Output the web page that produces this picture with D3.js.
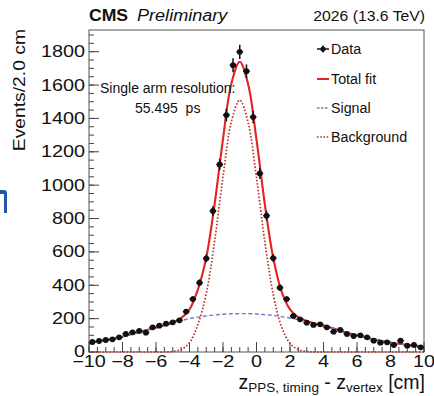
<!DOCTYPE html>
<html>
<head>
<meta charset="utf-8">
<script src="https://cdn.jsdelivr.net/npm/d3@7"></script>
<style>
  html, body { margin: 0; padding: 0; background: #fff; }
  svg { display: block; font-family: "Liberation Sans", Arial, Helvetica, sans-serif; }
</style>
</head>
<body>
<svg id="chart" width="434" height="396"></svg>
<script>
// Histogram bins (cm) and event counts with statistical errors
const binCenters = [-9.8, -9.4, -9.0, -8.6, -8.2, -7.8, -7.4, -7.0, -6.6, -6.2,
                    -5.8, -5.4, -5.0, -4.6, -4.2, -3.8, -3.4, -3.0, -2.6, -2.2,
                    -1.8, -1.4, -1.0, -0.6, -0.2, 0.2, 0.6, 1.0, 1.4, 1.8,
                    2.2, 2.6, 3.0, 3.4, 3.8, 4.2, 4.6, 5.0, 5.4, 5.8,
                    6.2, 6.6, 7.0, 7.4, 7.8, 8.2, 8.6, 9.0, 9.4, 9.8];
const binHalfWidth = 0.2;
const counts = [60, 66, 72, 76, 88, 108, 118, 126, 116, 148,
                158, 170, 178, 190, 242, 317, 415, 561, 845, 1124,
                1420, 1719, 1799, 1683, 1408, 1070, 817, 563, 385, 317,
                216, 196, 176, 162, 166, 148, 122, 132, 108, 96,
                100, 88, 68, 56, 58, 42, 68, 38, 42, 28];
const countErrors = [7.7, 8.1, 8.5, 8.7, 9.4, 10.4, 10.9, 11.2, 10.8, 12.2,
                     12.6, 13.0, 13.3, 13.8, 15.6, 17.8, 20.4, 23.7, 29.1, 33.5,
                     37.7, 41.5, 42.4, 41.0, 37.5, 32.7, 28.6, 23.7, 19.6, 17.8,
                     14.7, 14.0, 13.3, 12.7, 12.9, 12.2, 11.0, 11.5, 10.4, 9.8,
                     10.0, 9.4, 8.2, 7.5, 7.6, 6.5, 8.2, 6.2, 6.5, 5.3];

// Fit curves sampled along z
const fitX = [-10, -9.5, -9, -8.5, -8, -7.5, -7, -6.5, -6, -5.5,
              -5, -4.5, -4, -3.5, -3, -2.5, -2, -1.5, -1, -0.5,
              0, 0.5, 1, 1.5, 2, 2.5, 3, 3.5, 4, 4.5,
              5, 5.5, 6, 6.5, 7, 7.5, 8, 8.5, 9, 9.5, 10];
const totalFit = [56, 63, 71, 81, 92, 106, 120, 133, 146, 160,
                  177, 203, 255, 374, 566, 887, 1276, 1609, 1740, 1605,
                  1273, 884, 564, 362, 256, 208, 186, 171, 158, 144,
                  128, 113, 100, 87, 76, 66, 57, 49, 42, 36, 30];
const signalFit = [56, 63, 71, 81, 92, 106, 120, 133, 146, 160,
                   174, 188, 200, 209, 216, 222, 226, 229, 230, 230,
                   228, 224, 219, 212, 204, 194, 183, 171, 158, 144,
                   128, 113, 100, 87, 76, 66, 57, 49, 42, 36, 30];
const backgroundFit = [0, 0, 0, 0, 0, 0, 0, 0, 0, 0,
                       3, 15, 55, 165, 350, 665, 1050, 1380, 1510, 1375,
                       1045, 660, 345, 150, 52, 14, 3, 0, 0, 0,
                       0, 0, 0, 0, 0, 0, 0, 0, 0, 0, 0];

// Axis ticks
const xMajorTicks = [-10, -8, -6, -4, -2, 0, 2, 4, 6, 8, 10];
const yMajorTicks = [0, 200, 400, 600, 800, 1000, 1200, 1400, 1600, 1800];
const xMinorStep = 0.5;
const yMinorStep = 50;

const legendLabels = ["Data", "Total fit", "Signal", "Background"];

const svg = d3.select("#chart");
const plot = { left: 89, right: 424, top: 30, bottom: 352 };

const x = d3.scaleLinear().domain([-10, 10]).range([plot.left, plot.right]);
const y = d3.scaleLinear().domain([0, 1930]).range([plot.bottom, plot.top]);

const colTotal = "#e2231f";
const colBkg = "#bf2f2a";
const colSig = "#6c7cc4";

// Slide-edge fragment at the far left
svg.append("path").attr("d", "M0,190 h4 a3,3 0 0 1 3,3 v20 h-3 v-19 h-4 z")
  .attr("fill", "#2158a8");

// Text helper: horizontally stretched glyphs
function sText(parent, px, py, str, size, sx, anchor, opts = {}) {
  const t = parent.append("text")
    .attr("transform", `translate(${px},${py}) scale(${sx},1)`)
    .attr("font-size", size)
    .attr("text-anchor", anchor || "start")
    .attr("fill", opts.fill || "#111")
    .style("white-space", "pre")
    .text(str);
  if (opts.weight) t.attr("font-weight", opts.weight);
  if (opts.italic) t.attr("font-style", "italic");
  return t;
}

// Frame
svg.append("rect")
  .attr("x", plot.left).attr("y", plot.top)
  .attr("width", plot.right - plot.left).attr("height", plot.bottom - plot.top)
  .attr("fill", "none").attr("stroke", "#555").attr("stroke-width", 1);

// Minor and major ticks, pointing inward
const xMinor = d3.range(-10, 10.001, xMinorStep);
const yMinor = d3.range(0, 1930, yMinorStep);
const axisG = svg.append("g").attr("stroke", "#444").attr("stroke-width", 1);
axisG.selectAll(".xmin").data(xMinor).join("line")
  .attr("x1", d => x(d)).attr("x2", d => x(d))
  .attr("y1", plot.bottom).attr("y2", plot.bottom - 5);
axisG.selectAll(".xmaj").data(xMajorTicks).join("line")
  .attr("x1", d => x(d)).attr("x2", d => x(d))
  .attr("y1", plot.bottom).attr("y2", plot.bottom - 10);
axisG.selectAll(".ymin").data(yMinor).join("line")
  .attr("y1", d => y(d)).attr("y2", d => y(d))
  .attr("x1", plot.left).attr("x2", plot.left + 5);
axisG.selectAll(".ymaj").data(yMajorTicks).join("line")
  .attr("y1", d => y(d)).attr("y2", d => y(d))
  .attr("x1", plot.left).attr("x2", plot.left + 10);

// Tick labels
const fmt = d3.format("");
yMajorTicks.forEach(v => sText(svg, plot.left - 4, y(v) + 5.5 - (v === 0 ? 1 : 0), fmt(v), 16, 1.24, "end"));
xMajorTicks.forEach(v => sText(svg, x(v), 367, fmt(v), 16, 1.24, "middle"));

// Fit curves
const line = d3.line()
  .x((d, i) => x(fitX[i]))
  .y(d => y(d))
  .curve(d3.curveCatmullRom.alpha(0.5));

svg.append("path").datum(totalFit).attr("d", line)
  .attr("fill", "none").attr("stroke", colTotal).attr("stroke-width", 2.1);
svg.append("path").datum(backgroundFit).attr("d", line)
  .attr("fill", "none").attr("stroke", colBkg).attr("stroke-width", 1.7)
  .attr("stroke-dasharray", "1.6,1.8");
svg.append("path").datum(signalFit).attr("d", line)
  .attr("fill", "none").attr("stroke", colSig).attr("stroke-width", 1.4)
  .attr("stroke-dasharray", "4,2.5");

// Data points with error bars
const pts = svg.append("g");
binCenters.forEach((c, i) => {
  const g = pts.append("g");
  g.append("line")
    .attr("x1", x(c)).attr("x2", x(c))
    .attr("y1", y(counts[i] - countErrors[i])).attr("y2", y(counts[i] + countErrors[i]))
    .attr("stroke", "#111").attr("stroke-width", 1.5);
  g.append("line")
    .attr("x1", x(c - binHalfWidth)).attr("x2", x(c + binHalfWidth))
    .attr("y1", y(counts[i])).attr("y2", y(counts[i]))
    .attr("stroke", "#111").attr("stroke-width", 1.5);
  g.append("circle").attr("cx", x(c)).attr("cy", y(counts[i])).attr("r", 2.9)
    .attr("fill", "#111");
});

// Header
sText(svg, 89, 21, "CMS", 16, 1.1, "start", { weight: "bold" });
sText(svg, 137, 21, "Preliminary", 16, 1.13, "start", { italic: true });
sText(svg, 425, 21, "2026 (13.6 TeV)", 15, 1.05, "end");

// Resolution annotation
sText(svg, 100, 93, "Single arm resolution:", 14, 1.0, "start");
sText(svg, 135, 113, "55.495  ps", 14, 1.0, "start");

// Legend
const legX0 = 317, legX1 = 329, legText = 331;
const legY = [49, 79, 108, 137];
const leg = svg.append("g");
leg.append("line").attr("x1", legX0).attr("x2", legX1).attr("y1", legY[0]).attr("y2", legY[0])
  .attr("stroke", "#111").attr("stroke-width", 1.5);
leg.append("line").attr("x1", (legX0 + legX1) / 2).attr("x2", (legX0 + legX1) / 2)
  .attr("y1", legY[0] - 3.5).attr("y2", legY[0] + 3.5).attr("stroke", "#111").attr("stroke-width", 1.5);
leg.append("circle").attr("cx", (legX0 + legX1) / 2).attr("cy", legY[0]).attr("r", 2.6).attr("fill", "#111");
leg.append("line").attr("x1", legX0).attr("x2", legX1).attr("y1", legY[1]).attr("y2", legY[1])
  .attr("stroke", colTotal).attr("stroke-width", 2);
leg.append("line").attr("x1", legX0).attr("x2", legX1).attr("y1", legY[2]).attr("y2", legY[2])
  .attr("stroke", colSig).attr("stroke-width", 1.3).attr("stroke-dasharray", "2.5,1.5");
leg.append("line").attr("x1", legX0).attr("x2", legX1).attr("y1", legY[3]).attr("y2", legY[3])
  .attr("stroke", colBkg).attr("stroke-width", 1.6).attr("stroke-dasharray", "1.6,1.6");
legendLabels.forEach((s, i) => sText(leg, legText, legY[i] + 5, s, 14, 1.02, "start"));

// Axis titles
svg.append("text")
  .attr("transform", "translate(25,29) rotate(-90) scale(1.17,1)")
  .attr("text-anchor", "end").attr("font-size", 16.5).attr("fill", "#111")
  .text("Events/2.0 cm");

const xt = svg.append("text")
  .attr("x", 425).attr("y", 389).attr("text-anchor", "end")
  .attr("font-size", 19.5).attr("fill", "#111");
xt.append("tspan").text("z");
xt.append("tspan").attr("font-size", 13.5).attr("dy", 3).text("PPS, timing");
xt.append("tspan").attr("dy", -3).text(" - z");
xt.append("tspan").attr("font-size", 13.5).attr("dy", 3).text("vertex");
xt.append("tspan").attr("dy", -3).text(" [cm]");
</script>
</body>
</html>
